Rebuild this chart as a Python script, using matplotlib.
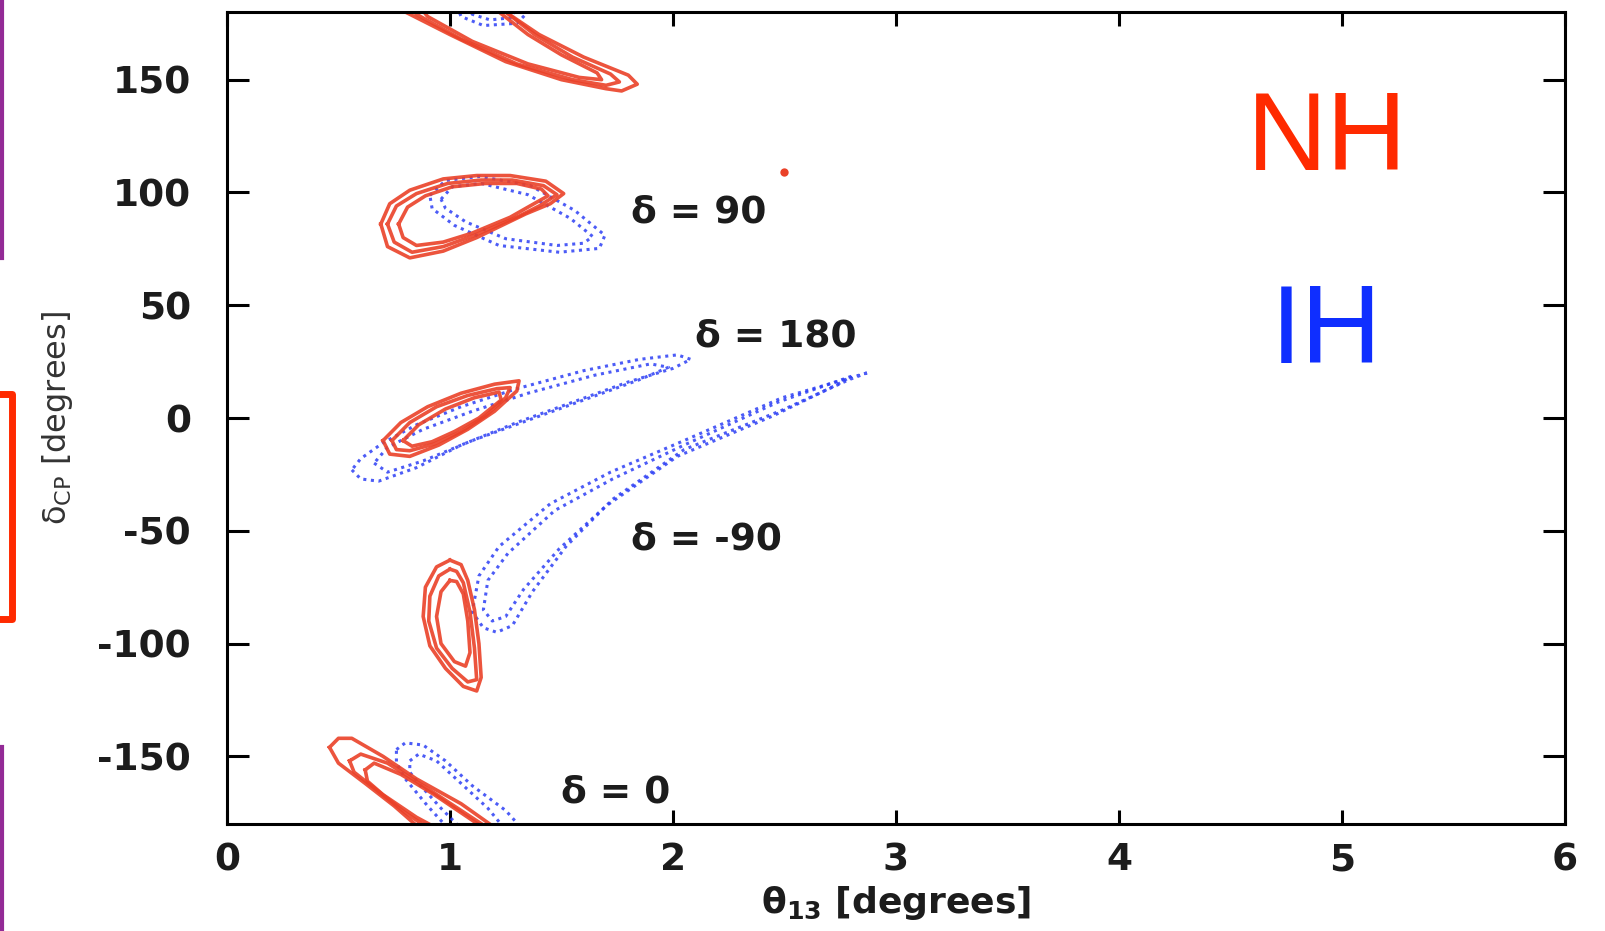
import numpy as np
import matplotlib
matplotlib.use("Agg")
import matplotlib.pyplot as plt
from matplotlib.lines import Line2D

plt.rcParams['font.family'] = ['DejaVu Sans']
plt.rcParams['mathtext.fontset'] = 'dejavusans'
plt.rcParams['axes.unicode_minus'] = False

# --- contours (theta13 [deg], deltaCP [deg]) ---
# NH (red, solid) -- three nested levels per island
nh_top_1 = [(0.70, 190), (0.80, 180), (1.00, 170), (1.25, 158), (1.50, 150), (1.70, 146), (1.77, 145),
            (1.84, 148), (1.80, 152), (1.60, 160), (1.40, 170), (1.25, 180), (1.15, 190)]
nh_top_2 = [(0.75, 190), (0.85, 179), (1.05, 168), (1.30, 157), (1.55, 150), (1.70, 147.5), (1.76, 149),
            (1.72, 152.5), (1.55, 160), (1.38, 170), (1.25, 180), (1.15, 190)]
nh_top_3 = [(0.80, 190), (0.90, 178), (1.10, 167), (1.35, 157), (1.58, 151), (1.68, 150), (1.66, 153),
            (1.50, 161), (1.35, 170), (1.22, 180), (1.12, 190)]

nh_90_1 = [(0.69, 86), (0.73, 95), (0.82, 101), (0.97, 106), (1.12, 107.5), (1.27, 107.5), (1.43, 105),
           (1.51, 99.5), (1.45, 95), (1.34, 90.5), (1.12, 80), (0.97, 74), (0.82, 71), (0.72, 76)]
nh_90_2 = [(0.72, 86), (0.76, 94), (0.85, 99.5), (0.99, 104), (1.14, 105.5), (1.28, 105.5), (1.42, 103),
           (1.48, 99), (1.40, 94), (1.31, 89.5), (1.11, 81), (0.97, 76), (0.83, 73.5), (0.75, 78)]
nh_90_3 = [(0.77, 86), (0.81, 93.5), (0.89, 98.5), (1.01, 102.5), (1.16, 104), (1.30, 104), (1.41, 101.5),
           (1.44, 98.5), (1.35, 93.5), (1.27, 89), (1.10, 82), (0.97, 78), (0.85, 76.5), (0.79, 80)]

nh_180_1 = [(0.70, -10), (0.78, -2), (0.90, 5), (1.05, 11), (1.20, 15), (1.31, 16.5), (1.30, 12),
            (1.20, 3), (1.08, -5), (0.95, -12), (0.82, -17), (0.73, -16)]
nh_180_2 = [(0.74, -10), (0.82, -2), (0.94, 5), (1.08, 10), (1.21, 13), (1.27, 13.5), (1.25, 9),
            (1.16, 1), (1.05, -6), (0.93, -11.5), (0.82, -14.5), (0.76, -14)]
nh_180_3 = [(0.79, -10), (0.86, -3), (0.98, 4), (1.11, 9), (1.22, 11.5), (1.23, 8), (1.13, 0),
            (1.02, -6), (0.92, -10.5), (0.83, -12.5)]

nh_m90_1 = [(1.00, -63), (0.94, -66), (0.89, -75), (0.88, -88), (0.91, -101), (0.98, -111), (1.06, -119),
            (1.12, -121), (1.14, -115), (1.13, -100), (1.11, -85), (1.08, -72), (1.05, -65)]
nh_m90_2 = [(1.00, -67), (0.95, -70), (0.91, -79), (0.905, -90), (0.94, -102), (1.01, -111), (1.08, -117),
            (1.12, -116), (1.11, -102), (1.09, -86), (1.06, -73), (1.03, -68)]
nh_m90_3 = [(1.00, -72), (0.96, -77), (0.94, -88), (0.96, -100), (1.02, -108), (1.07, -110), (1.09, -104),
            (1.08, -90), (1.06, -78), (1.03, -72.5)]

nh_bot_1 = [(0.46, -146), (0.50, -142), (0.56, -142), (0.70, -150), (0.85, -160), (1.05, -171),
            (1.25, -185), (0.90, -185), (0.75, -172), (0.62, -162), (0.50, -153)]
nh_bot_2 = [(0.55, -152), (0.60, -149), (0.72, -153), (0.88, -163), (1.05, -174), (1.22, -185),
            (0.95, -185), (0.80, -175), (0.66, -164), (0.57, -157)]
nh_bot_3 = [(0.62, -156), (0.66, -153), (0.78, -158), (0.93, -167), (1.08, -177), (1.20, -185),
            (1.00, -185), (0.85, -177), (0.70, -167), (0.63, -161)]

# IH (blue, dotted) -- two nested levels per island
ih_top_1 = [(1.00, 190), (1.05, 178), (1.15, 174), (1.30, 175), (1.35, 180), (1.36, 190)]
ih_top_2 = [(1.06, 190), (1.10, 179), (1.18, 176.5), (1.28, 177.5), (1.31, 190)]

ih_90_1 = [(0.91, 98.7), (0.98, 105.3), (1.135, 107.1), (1.36, 103.1), (1.56, 92), (1.695, 81),
           (1.67, 75.2), (1.49, 73.5), (1.22, 76.5), (1.02, 85.4), (0.92, 92.9)]
ih_90_2 = [(0.96, 97), (1.01, 102.5), (1.14, 104), (1.35, 99), (1.54, 88.5), (1.64, 80.5),
           (1.60, 77.5), (1.48, 76.5), (1.25, 79.5), (1.07, 87), (0.98, 93)]

ih_180_1 = [(0.56, -23), (0.60, -27), (0.68, -28), (0.85, -22), (1.05, -12), (1.30, -2), (1.55, 7),
            (1.80, 16), (2.00, 22), (2.08, 26), (2.02, 28), (1.85, 26), (1.60, 21), (1.30, 13),
            (1.05, 5), (0.85, -3), (0.70, -11), (0.60, -18)]
ih_180_2 = [(0.66, -20), (0.72, -24), (0.88, -19), (1.10, -10), (1.35, -1), (1.60, 8), (1.85, 17),
            (1.98, 22.5), (1.90, 24), (1.65, 19), (1.35, 11), (1.10, 3), (0.88, -5), (0.72, -13)]

ih_m90_1 = [(2.87, 20), (2.49, 9), (2.05, -10), (1.72, -24), (1.45, -38), (1.22, -57), (1.13, -70),
            (1.10, -86), (1.15, -93), (1.21, -95), (1.28, -92), (1.37, -77), (1.52, -57), (1.73, -36),
            (2.05, -14), (2.49, 3.5), (2.79, 17)]
ih_m90_2 = [(2.80, 18.5), (2.47, 7), (2.05, -12), (1.73, -27), (1.47, -41), (1.26, -60), (1.17, -72),
            (1.15, -85), (1.19, -90), (1.25, -88), (1.33, -76), (1.49, -58), (1.70, -39), (2.02, -17),
            (2.45, 1), (2.74, 15)]

ih_bot_1 = [(0.76, -147), (0.80, -144), (0.88, -145), (0.98, -152), (1.10, -163), (1.25, -174),
            (1.35, -185), (1.02, -185), (0.90, -172), (0.80, -160), (0.76, -153)]
ih_bot_2 = [(0.82, -152), (0.86, -149), (0.94, -152), (1.05, -162), (1.17, -173), (1.27, -185),
            (1.08, -185), (0.96, -173), (0.86, -162), (0.82, -157)]

nh_contours = [nh_top_1, nh_top_2, nh_top_3, nh_90_1, nh_90_2, nh_90_3, nh_180_1, nh_180_2, nh_180_3,
               nh_m90_1, nh_m90_2, nh_m90_3, nh_bot_1, nh_bot_2, nh_bot_3]
ih_contours = [ih_top_1, ih_top_2, ih_90_1, ih_90_2, ih_180_1, ih_180_2, ih_m90_1, ih_m90_2,
               ih_bot_1, ih_bot_2]

true_point = (2.50, 109)

# labels of the true delta values
delta_labels = ['δ = 90', 'δ = 180', 'δ = -90', 'δ = 0']
delta_label_x = [1.81, 2.10, 1.81, 1.50]
delta_label_y = [91, 36, -54, -166]

x_ticks = [0, 1, 2, 3, 4, 5, 6]
y_ticks = [-150, -100, -50, 0, 50, 100, 150]

RED = '#ea4128'
BLUE = '#2d3ff5'
TXT = '#1c1c1c'

fig = plt.figure(figsize=(16.05, 9.31), dpi=100, facecolor='w')
ax = fig.add_axes([0.1414, 0.1149, 0.8336, 0.8722])


def closed(pts):
    arr = np.array(pts + [pts[0]])
    return arr[:, 0], arr[:, 1]


for c in ih_contours:
    cx, cy = closed(c)
    ax.plot(cx, cy, color=BLUE, lw=2.2, linestyle=(0, (1, 1.5)), alpha=0.85)

for c in nh_contours:
    cx, cy = closed(c)
    ax.plot(cx, cy, color=RED, lw=2.6, alpha=0.9, solid_joinstyle='round')

ax.plot([true_point[0]], [true_point[1]], 'o', color=RED, ms=6, mec='none')

for lab, lx, ly in zip(delta_labels, delta_label_x, delta_label_y):
    ax.text(lx, ly, lab, fontsize=27, fontweight='bold', color=TXT, ha='left', va='center')

ax.text(0.822, 0.841, 'NH', transform=ax.transAxes, fontsize=80, color='#ff2a00',
        ha='center', va='center', family='Liberation Sans')
ax.text(0.822, 0.603, 'IH', transform=ax.transAxes, fontsize=80, color='#0f2eff',
        ha='center', va='center', family='Liberation Sans')

ax.set_xlim(0, 6)
ax.set_ylim(-180, 180)
ax.set_xticks(x_ticks)
ax.set_yticks(y_ticks)
ax.set_xticklabels([str(t) for t in x_ticks])
ax.set_yticklabels([str(t) for t in y_ticks])
for lab in ax.get_xticklabels() + ax.get_yticklabels():
    lab.set_fontweight('bold')
    lab.set_color(TXT)
ax.tick_params(axis='x', direction='in', length=10, width=2.2, labelsize=27, pad=13,
               top=True, bottom=True)
ax.tick_params(axis='y', direction='in', length=16, width=2.2, labelsize=27, pad=26,
               left=True, right=True)
for s in ax.spines.values():
    s.set_linewidth(2.2)

ax.set_xlabel(r'θ$_{\mathbf{13}}$ [degrees]', fontsize=26, fontweight='bold', color=TXT, labelpad=4)
ax.set_ylabel(r'δ$_{\mathrm{CP}}$ [degrees]', fontsize=23, color='#333333', labelpad=16)

# slide decorations at the left edge
fig.add_artist(Line2D([0.0015, 0.0015], [1.0, 1 - 258 / 931], color='#932a96', lw=3))
fig.add_artist(Line2D([0.0015, 0.0015], [1 - 747 / 931, 0.0], color='#932a96', lw=3))
fig.add_artist(Line2D([0.0, 12 / 1605, 12 / 1605, 0.0],
                      [1 - 394 / 931, 1 - 394 / 931, 1 - 619 / 931, 1 - 619 / 931],
                      color='#ff2a00', lw=5))

fig.savefig('out.png', dpi=100, facecolor='w')
